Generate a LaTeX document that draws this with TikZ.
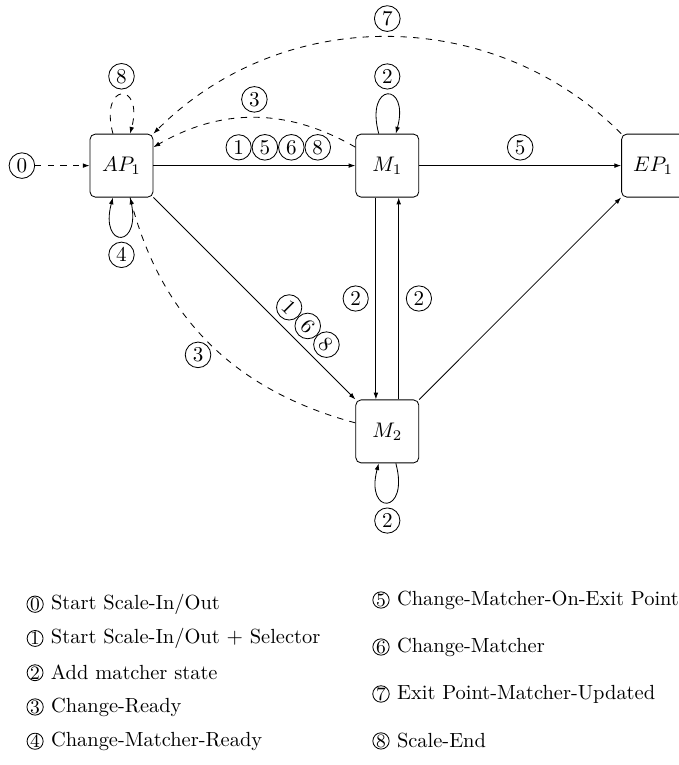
\documentclass[tikz,border=0pt]{standalone}
\usepackage{amsmath}
\usetikzlibrary{arrows.meta,positioning}

\begin{document}
\begin{tikzpicture}[
  >={Latex[length=3.2pt,width=2.2pt]},
  state/.style={draw,rounded corners=2.5pt,minimum size=1.05cm,inner sep=0pt},
  num/.style={circle,draw,solid,inner sep=1.3pt},
  legnum/.style={circle,draw,inner sep=0pt,minimum size=0.25cm,font=\small},
  legtext/.style={font=\fontsize{9.7}{11}\selectfont},
  flow/.style={->},
  dflow/.style={->,dashed},
  every loop/.style={min distance=9mm}
]
  \useasboundingbox (-2.025,-9.99) rectangle (9.29,2.76);
  % states
  \node[state] (AP1) at (0,0) {$AP_1$};
  \node[state] (M1) at (4.43,0) {$M_1$};
  \node[state] (EP1) at (8.86,0) {$EP_1$};
  \node[state] (M2) at (4.43,-4.43) {$M_2$};
  \node[num] (n0) at (-1.66,0) {0};

  % solid transitions
  \draw[flow] (AP1) -- (M1) node[num,pos=0.552,above=2.4pt] (h5) {5};
  \node[num,left=0pt of h5] (h1) {1};
  \node[num,right=0pt of h5] (h6) {6};
  \node[num,right=0pt of h6] (h8) {8};
  \draw[flow] (M1) -- (EP1) node[num,midway,above=2.4pt] (l5) {5};
  \draw[flow] (AP1) -- (M2) node[num,pos=0.7,sloped,above=2.4pt] (d6) {6};
  \node[num,rotate=-45,anchor=east] (d1) at (d6.west) {1};
  \node[num,rotate=-45,anchor=west] (d8) at (d6.east) {8};
  \draw[flow] (M2) -- (EP1);
  \draw[flow] ([xshift=-0.19cm]M1.south) -- ([xshift=-0.19cm]M2.north)
    node[num,midway,left=3.4pt] (v1) {2};
  \draw[flow] ([xshift=0.19cm]M2.north) -- ([xshift=0.19cm]M1.south)
    node[num,midway,right=3.4pt] (v2) {2};

  % loops
  \path (AP1) edge[flow,loop below] node[num,below=2.4pt] (b4) {4} ();
  \path (AP1) edge[dflow,loop above] node[num,above=2.4pt] (t8) {8} ();
  \path (M1) edge[flow,loop above] node[num,above=2.4pt] (t2) {2} ();
  \path (M2) edge[flow,loop below] node[num,below=2.4pt] (b2) {2} ();

  % dashed transitions
  \draw[dflow] (n0) -- (AP1);
  \draw[dflow] (M1) to[bend right=30] node[num,above=2.4pt] (c3) {3} (AP1);
  \draw[dflow] (EP1) to[bend right=45] node[num,above=2.4pt] (c7) {7} (AP1);
  \draw[dflow] (M2) to[bend left=30] node[num,below left=1.5pt] (c3b) {3} (AP1);

  % legend
  \foreach \k/\txt [count=\i from 0] in {0/Start Scale-In\slash Out,
      1/Start Scale-In\slash Out $+$ Selector, 2/Add matcher state,
      3/Change-Ready, 4/Change-Matcher-Ready}{
    \node[legnum] (leg\k) at (-1.44,{-7.31-0.571*\i}) {\k};
    \node[legtext,right=0pt of leg\k] (legtxt\k) {\txt};
  }
  \foreach \k/\txt [count=\i from 0] in {5/Change-Matcher-On-Exit Point,
      6/Change-Matcher, 7/Exit Point-Matcher-Updated, 8/Scale-End}{
    \node[legnum] (leg\k) at (4.325,{-7.24-0.783*\i}) {\k};
    \node[legtext,right=0pt of leg\k] (legtxt\k) {\txt};
  }
\end{tikzpicture}
\end{document}
